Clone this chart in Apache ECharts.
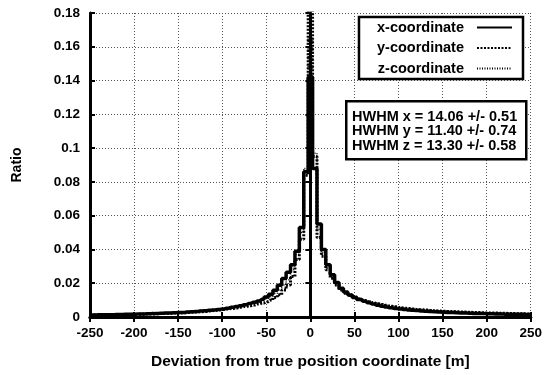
<!DOCTYPE html>
<html>
<head>
<meta charset="utf-8">
<title>Deviation histogram</title>
<script src="https://cdn.jsdelivr.net/npm/echarts@6/dist/echarts.min.js"></script>
<style>
  html, body { margin: 0; padding: 0; background: #fff; }
  #chart { width: 545px; height: 375px; }
</style>
</head>
<body>
<div id="chart"></div>
<script>
  "use strict";

  // bin centres [m], 5 m bins
  var binCenters = [
    -250, -245, -240, -235, -230, -225, -220, -215, -210, -205,
    -200, -195, -190, -185, -180, -175, -170, -165, -160, -155,
    -150, -145, -140, -135, -130, -125, -120, -115, -110, -105,
    -100, -95, -90, -85, -80, -75, -70, -65, -60, -55,
    -50, -45, -40, -35, -30, -25, -20, -15, -10, -5,
    0,
    5, 10, 15, 20, 25, 30, 35, 40, 45, 50,
    55, 60, 65, 70, 75, 80, 85, 90, 95, 100,
    105, 110, 115, 120, 125, 130, 135, 140, 145, 150,
    155, 160, 165, 170, 175, 180, 185, 190, 195, 200,
    205, 210, 215, 220, 225, 230, 235, 240, 245, 250
  ];

  var ratioX = [
    0.0012, 0.0012, 0.0013, 0.0013, 0.0014, 0.0014, 0.0015, 0.0015, 0.0016, 0.0016,
    0.0017, 0.0018, 0.0018, 0.0019, 0.0020, 0.0021, 0.0022, 0.0023, 0.0024, 0.0025,
    0.0026, 0.0027, 0.0029, 0.0031, 0.0033, 0.0035, 0.0037, 0.0040, 0.0042, 0.0045,
    0.0048, 0.0052, 0.0057, 0.0062, 0.0067, 0.0073, 0.0080, 0.0087, 0.0095, 0.0105,
    0.0118, 0.0135, 0.0158, 0.0188, 0.0228, 0.0265, 0.0310, 0.0390, 0.0530, 0.0860,
    0.1420,
    0.0880, 0.0550, 0.0400, 0.0310, 0.0250, 0.0205, 0.0170, 0.0148, 0.0130, 0.0115,
    0.0103, 0.0093, 0.0085, 0.0077, 0.0070, 0.0064, 0.0059, 0.0055, 0.0051, 0.0048,
    0.0045, 0.0042, 0.0040, 0.0038, 0.0036, 0.0034, 0.0032, 0.0031, 0.0029, 0.0028,
    0.0027, 0.0026, 0.0025, 0.0024, 0.0023, 0.0022, 0.0021, 0.0021, 0.0020, 0.0019,
    0.0019, 0.0018, 0.0018, 0.0017, 0.0017, 0.0016, 0.0016, 0.0016, 0.0015, 0.0015
  ];

  var ratioY = [
    0.0011, 0.0012, 0.0012, 0.0012, 0.0013, 0.0013, 0.0014, 0.0014, 0.0015, 0.0015,
    0.0016, 0.0016, 0.0017, 0.0018, 0.0018, 0.0019, 0.0020, 0.0021, 0.0022, 0.0023,
    0.0024, 0.0025, 0.0026, 0.0028, 0.0029, 0.0031, 0.0033, 0.0035, 0.0038, 0.0041,
    0.0044, 0.0047, 0.0050, 0.0054, 0.0058, 0.0062, 0.0066, 0.0071, 0.0077, 0.0083,
    0.0090, 0.0100, 0.0115, 0.0132, 0.0160, 0.0190, 0.0240, 0.0340, 0.0460, 0.0840,
    0.1900,
    0.0950, 0.0470, 0.0360, 0.0280, 0.0230, 0.0190, 0.0160, 0.0140, 0.0128, 0.0117,
    0.0107, 0.0098, 0.0091, 0.0085, 0.0079, 0.0074, 0.0069, 0.0064, 0.0060, 0.0056,
    0.0053, 0.0050, 0.0047, 0.0045, 0.0043, 0.0041, 0.0039, 0.0037, 0.0036, 0.0034,
    0.0033, 0.0032, 0.0031, 0.0030, 0.0029, 0.0028, 0.0027, 0.0026, 0.0025, 0.0024,
    0.0024, 0.0023, 0.0022, 0.0022, 0.0021, 0.0020, 0.0019, 0.0019, 0.0018, 0.0017
  ];

  var ratioZ = [
    0.0013, 0.0013, 0.0014, 0.0014, 0.0015, 0.0015, 0.0016, 0.0016, 0.0017, 0.0018,
    0.0019, 0.0020, 0.0021, 0.0022, 0.0022, 0.0023, 0.0024, 0.0025, 0.0027, 0.0028,
    0.0030, 0.0031, 0.0033, 0.0035, 0.0037, 0.0040, 0.0040, 0.0043, 0.0046, 0.0048,
    0.0050, 0.0054, 0.0058, 0.0062, 0.0066, 0.0071, 0.0077, 0.0083, 0.0090, 0.0098,
    0.0110, 0.0120, 0.0140, 0.0160, 0.0190, 0.0220, 0.0280, 0.0370, 0.0500, 0.0880,
    0.1650,
    0.0970, 0.0520, 0.0380, 0.0290, 0.0240, 0.0200, 0.0170, 0.0150, 0.0135, 0.0122,
    0.0111, 0.0102, 0.0095, 0.0088, 0.0082, 0.0076, 0.0071, 0.0066, 0.0062, 0.0058,
    0.0055, 0.0052, 0.0049, 0.0047, 0.0045, 0.0043, 0.0041, 0.0039, 0.0037, 0.0036,
    0.0035, 0.0033, 0.0032, 0.0031, 0.0030, 0.0029, 0.0028, 0.0027, 0.0026, 0.0025,
    0.0025, 0.0024, 0.0023, 0.0022, 0.0022, 0.0021, 0.0020, 0.0020, 0.0019, 0.0018
  ];

  var seriesNames = ["x-coordinate", "y-coordinate", "z-coordinate"];
  var hwhmLines = [
    "HWHM x = 14.06 +/- 0.51",
    "HWHM y = 11.40 +/- 0.74",
    "HWHM z = 13.30 +/- 0.58"
  ];

  var FONT = "'Liberation Sans', Arial, Helvetica, sans-serif";

  function pairs(values) {
    return binCenters.map(function (c, i) { return [c, values[i]]; });
  }

  function stepSeries(name, values, lineStyle, z) {
    return {
      name: name,
      type: "line",
      step: "middle",
      symbol: "none",
      showSymbol: false,
      z: z,
      data: pairs(values),
      lineStyle: lineStyle,
      itemStyle: { color: "#000" }
    };
  }

  // top / right copies of the axes: only the frame line and the inward ticks
  function frameAxis(pos, isX) {
    return {
      type: "value",
      position: pos,
      min: isX ? -250 : 0,
      max: isX ? 250 : 0.18,
      interval: isX ? 50 : 0.02,
      axisLine: { show: true, lineStyle: { color: "#000", width: 3 } },
      axisTick: { show: true, inside: true, length: 5, lineStyle: { color: "#000", width: 2 } },
      axisLabel: { show: false },
      splitLine: { show: false }
    };
  }

  var chart = echarts.init(document.getElementById("chart"), null, { renderer: "canvas" });

  var tickFont = { color: "#000", fontFamily: FONT, fontWeight: "bold", fontSize: 13.5 };

  chart.setOption({
    animation: false,
    backgroundColor: "#fff",
    grid: { left: 90, right: 13, top: 13, bottom: 50 },
    legend: {
      data: seriesNames,
      orient: "vertical",
      right: 22,
      top: 17,
      align: "right",
      itemWidth: 35,
      itemHeight: 14,
      itemGap: 5.5,
      padding: [3, 10, 3, 18],
      borderColor: "#000",
      borderWidth: 2.5,
      backgroundColor: "#fff",
      itemStyle: { color: "rgba(0,0,0,0)", borderWidth: 0 },
      textStyle: { color: "#000", fontFamily: FONT, fontWeight: "bold", fontSize: 14.5, padding: [0, 8, 0, 0] }
    },
    xAxis: [
      {
        type: "value",
        min: -250,
        max: 250,
        interval: 50,
        name: "Deviation from true position coordinate [m]",
        nameLocation: "middle",
        nameGap: 37,
        nameTextStyle: { color: "#000", fontFamily: FONT, fontWeight: "bold", fontSize: 15.5 },
        axisLine: { show: true, onZero: false, lineStyle: { color: "#000", width: 3 } },
        axisTick: { show: true, inside: true, length: 5, lineStyle: { color: "#000", width: 2 } },
        axisLabel: Object.assign({ margin: 9 }, tickFont),
        splitLine: { show: true, lineStyle: { color: "#555", width: 1, type: [1, 2] } }
      },
      frameAxis("top", true)
    ],
    yAxis: [
      {
        type: "value",
        min: 0,
        max: 0.18,
        interval: 0.02,
        name: "Ratio",
        nameLocation: "middle",
        nameGap: 66,
        nameRotate: 90,
        nameTextStyle: { color: "#000", fontFamily: FONT, fontWeight: "bold", fontSize: 14 },
        axisLine: { show: true, onZero: false, lineStyle: { color: "#000", width: 3 } },
        axisTick: { show: true, inside: true, length: 5, lineStyle: { color: "#000", width: 2 } },
        axisLabel: Object.assign({ margin: 10 }, tickFont),
        splitLine: { show: true, lineStyle: { color: "#555", width: 1, type: [1, 2] } }
      },
      frameAxis("right", false)
    ],
    series: [
      stepSeries(seriesNames[0], ratioX, { color: "#000", width: 3.5, type: "solid" }, 3),
      stepSeries(seriesNames[1], ratioY, { color: "#000", width: 3, type: [2, 1.5] }, 2),
      stepSeries(seriesNames[2], ratioZ, { color: "#000", width: 1.5, type: [1, 1.5] }, 1)
    ],
    graphic: [
      {
        type: "rect",
        left: 345,
        top: 100,
        z: 100,
        shape: { x: 0, y: 0, width: 180, height: 58 },
        style: { fill: "#fff", stroke: "#000", lineWidth: 2.5 }
      },
      {
        type: "text",
        left: 352,
        top: 109,
        z: 101,
        style: {
          text: hwhmLines.join("\n"),
          fill: "#000",
          font: "bold 14.5px " + FONT,
          lineHeight: 14.5
        }
      }
    ]
  });
</script>
</body>
</html>
